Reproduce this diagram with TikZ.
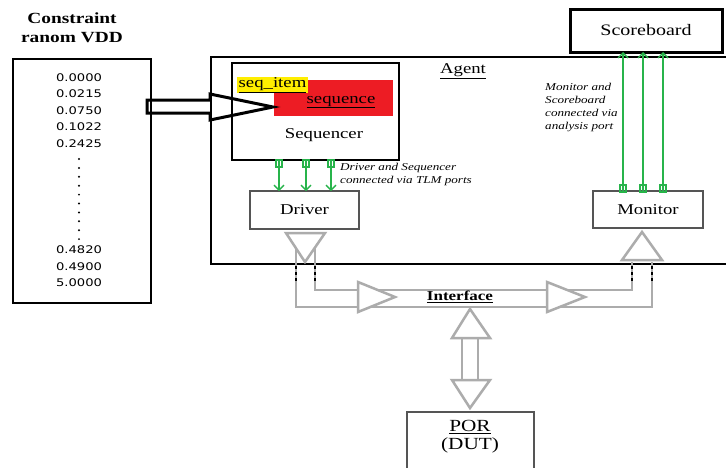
\documentclass[tikz,border=0pt]{standalone}
\usepackage{fontspec}
\setmainfont{Liberation Serif}[FakeStretch=1.25]
\newfontfamily\numfont{DejaVu Sans}[FakeStretch=1.25]
\usetikzlibrary{arrows.meta}
\definecolor{pgreen}{RGB}{40,180,75}
\definecolor{chgray}{RGB}{172,172,172}
\definecolor{boxgray}{RGB}{85,85,85}
\definecolor{hlyellow}{RGB}{255,238,0}
\definecolor{hlred}{RGB}{237,28,36}
\tikzset{
  fs/.style={font=\fontsize{#1}{#1}\selectfont},
  boxnode/.style={draw, anchor=north west, inner sep=0pt, outer sep=0pt},
  garrow/.style={draw=pgreen, line width=1.4, -{Straight Barb[length=5,width=10,line width=1.4]}},
  gport/.style={draw=pgreen, line width=1.2},
  gch/.style={draw=chgray, line width=2.5, line join=miter},
  gtri/.style={draw=chgray, fill=white, line width=2.5, line join=miter},
  crossdash/.style={draw=black, line width=2.5, dash pattern=on 3 off 3},
  bigarrow/.style={draw=black, line width=3, line join=miter},
  itext/.style={font=\itshape\fontsize{10.5}{13}\selectfont, align=left, anchor=north west, inner sep=0pt},
}
\begin{document}
\begin{tikzpicture}[x=1pt,y=-1pt]
\clip (0,0) rectangle (726,467);
\fill[white] (0,0) rectangle (726,467);

% title
\node[font=\bfseries\fontsize{15.5}{19}\selectfont, align=center] (title) at (72,28) {Constraint\\ranom VDD};

% VDD list box
\node[boxnode, line width=1.5, minimum width=138, minimum height=244] (vdd) at (13,59) {};
\node[font=\numfont\fontsize{10.5}{16.5}\selectfont, align=center] (vtop) at (79,110.5) {0.0000\\0.0215\\0.0750\\0.1022\\0.2425};
\foreach \i in {0,...,9} \fill (79,{159+\i*8.9}) circle (1.1);
\node[font=\numfont\fontsize{10.5}{16.5}\selectfont, align=center] (vbot) at (79,266.5) {0.4820\\0.4900\\5.0000};

% Agent
\node[boxnode, line width=2.5, minimum width=540, minimum height=207] (agent) at (211,57) {};
\node[fs=15] (agentlbl) at (463,71) {\underline{Agent}};

% Sequencer
\node[boxnode, line width=2, minimum width=167, minimum height=97] (seqr) at (232,63) {};
\fill[hlred] (274,80) rectangle (393,116);
\fill[hlyellow] (237,77) rectangle (308,93);
\node[fs=15, inner sep=0pt] (seqitem) at (272.5,85) {\underline{seq\_item}};
\node[fs=15, inner sep=0pt] (seqence) at (341,102) {\underline{sequence}};
\node[fs=15] (seqlbl) at (324,135) {Sequencer};

% big hollow arrow into sequencer
\draw[bigarrow] (147,100) -- (210,100) -- (210,94) -- (273,107) -- (210,120) -- (210,113) -- (147,113) -- cycle;

% Driver / Monitor / Scoreboard / POR
\node[boxnode, draw=boxgray, line width=1.2, minimum width=109, minimum height=38] (drv) at (250,191) {};
\node[fs=15] (drvlbl) at (drv.center) {Driver};
\node[boxnode, draw=boxgray, line width=1.2, minimum width=110, minimum height=37] (mon) at (593,191) {};
\node[fs=15] (monlbl) at (mon.center) {Monitor};
\node[boxnode, line width=3, minimum width=152, minimum height=43] (sb) at (570,9) {};
\node[fs=16] (sblbl) at (sb.center) {Scoreboard};
\node[boxnode, draw=boxgray, line width=1.2, minimum width=127, minimum height=62] (por) at (407,412) {};
\node[font=\fontsize{17}{18}\selectfont, align=center] (porlbl) at (470,437) {\underline{POR}\\(DUT)};

% green TLM connections
\foreach \x [count=\k] in {279,306,331} {
  \coordinate (sx\k) at (\x,0);
  \draw[gport] (\x-3,160) rectangle (\x+3,167);
  \draw[garrow] (seqr.south -| sx\k) -- (drv.north -| sx\k);
}
\node[itext] (tlmtxt) at (340,163) {Driver and Sequencer\\connected via TLM ports};

% green analysis connections
\foreach \x [count=\k] in {623,643,663} {
  \coordinate (mx\k) at (\x,0);
  \draw[gport] (\x-3,185) rectangle (\x+3,192);
  \draw[garrow] (mon.north -| mx\k) -- (sb.south -| mx\k);
}
\node[itext] (aptxt) at (545,83) {Monitor and\\Scoreboard\\connected via\\analysis port};

% interface channel
\draw[gch] (315,245) -- (315,290) -- (632,290) -- (632,262);
\draw[gch] (296,245) -- (296,307) -- (652,307) -- (652,262);
\draw[gtri] (286,233) -- (325,233) -- (305,262) -- cycle;
\draw[gtri] (358,282) -- (358,312) -- (395,297) -- cycle;
\draw[gtri] (547,282) -- (547,312) -- (585,297) -- cycle;
\draw[gtri] (622,260) -- (662,260) -- (642,232) -- cycle;
\foreach \x in {296,315,632,652} \draw[crossdash] (\x,266) -- (\x,281);
\node[font=\bfseries\fontsize{13.6}{14}\selectfont, inner sep=1pt] (iface) at (460,297) {\underline{Interface}};

% interface <-> POR
\draw[gch] (462,335) -- (462,383);
\draw[gch] (478,335) -- (478,383);
\draw[gtri] (452,338) -- (490,338) -- (470,309) -- cycle;
\draw[gtri] (452,380) -- (490,380) -- (470,408) -- cycle;
\end{tikzpicture}
\end{document}
